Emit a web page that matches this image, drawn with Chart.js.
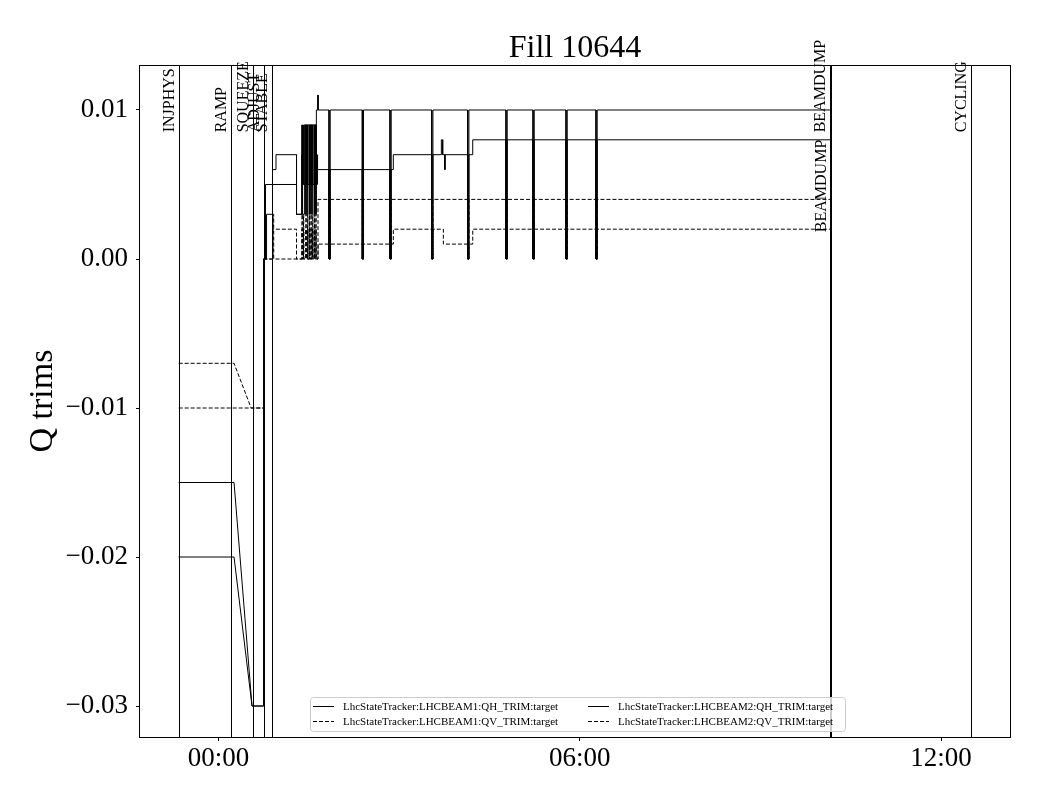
<!DOCTYPE html>
<html>
<head>
<meta charset="utf-8">
<script src="https://cdn.jsdelivr.net/npm/chart.js@4.4.1/dist/chart.umd.min.js"></script>
<style>
body{margin:0;background:#fff;}
#wrap{width:1040px;height:800px;}
</style>
</head>
<body>
<div id="wrap"><canvas id="qChart" width="1040" height="800"></canvas></div>
<script>
const FONT = '"Liberation Serif", "Times New Roman", serif';

const fillTitle = 'Fill 10644';
const yAxisTitle = 'Q trims';

// time axis in hours after 00:00
const xTickValues = [0, 6, 12];
const xTickLabels = ['00:00', '06:00', '12:00'];
const yTickValues = [-0.03, -0.02, -0.01, 0.0, 0.01];
const yTickLabels = ['\u22120.03', '\u22120.02', '\u22120.01', '0.00', '0.01'];

// machine modes (vertical markers)
const modeNames = ['INJPHYS', 'RAMP', 'SQUEEZE', 'ADJUST', 'STABLE', 'BEAMDUMP', 'BEAMDUMP', 'CYCLING'];
const modeTimes = [-0.658, 0.201, 0.563, 0.754, 0.879, 10.150, 10.168, 12.50];
const modeLabelY = [0.0085, 0.0085, 0.0085, 0.0085, 0.0085, 0.0085, 0.0018, 0.0085];

const seriesNames = [
  'LhcStateTracker:LHCBEAM1:QH_TRIM:target',
  'LhcStateTracker:LHCBEAM1:QV_TRIM:target',
  'LhcStateTracker:LHCBEAM2:QH_TRIM:target',
  'LhcStateTracker:LHCBEAM2:QV_TRIM:target'
];
const seriesDashed = [false, true, false, true];

// [hour, trim] samples
const b1qh = [[-0.664,-0.015],[0.256,-0.015],[0.555,-0.030],[0.746,-0.030],[0.746,0],[0.779,0],[0.779,0.005],
  [0.895,0.005],[0.895,0.006],[0.953,0.006],[0.953,0.007],[1.294,0.007],[1.294,0.003],[1.380,0.003],[1.380,0.007],
  [1.395,0.007],[1.395,0.003],[1.425,0.003],[1.425,0.009],[1.626,0.009],[1.626,0.010],[1.648,0.010],[1.648,0.011],
  [1.652,0.011],[1.652,0.010],[10.155,0.010]];
const b1qv = [[-0.664,-0.007],[0.256,-0.007],[0.540,-0.010],[0.746,-0.010],[0.746,0],[0.905,0],[0.905,0.003],
  [0.915,0.003],[0.915,0],[1.651,0],[1.651,0.004],[10.155,0.004]];
const b2qh = [[-0.664,-0.020],[0.256,-0.020],[0.555,-0.030],[0.746,-0.030],[0.746,0],[0.796,0],[0.796,0.003],
  [0.895,0.003],[0.895,0.005],[1.294,0.005],[1.294,0.003],[1.380,0.003],[1.380,0.005],[1.640,0.005],[1.640,0.007],
  [1.645,0.007],[1.645,0.006],[2.902,0.006],[2.902,0.007],[3.700,0.007],[3.700,0.008],[3.722,0.008],[3.722,0.007],
  [3.758,0.007],[3.758,0.006],[3.762,0.006],[3.762,0.007],[4.221,0.007],[4.221,0.008],[10.155,0.008]];
const b2qv = [[-0.664,-0.010],[0.746,-0.010],[0.746,0],[0.895,0],[0.895,0.002],[1.294,0.002],[1.294,0],
  [1.651,0],[1.651,0.001],[2.902,0.001],[2.902,0.002],[3.733,0.002],[3.733,0.001],[4.221,0.001],[4.221,0.002],
  [10.155,0.002]];

// short excursions: trims reset to 0 for all beams, plus the noisy stretch before stable trims
const trimResetTimes = [1.834, 2.387, 2.847, 3.540, 4.138, 4.774, 5.223, 5.771, 6.269];
const combTimes = [1.385, 1.41, 1.45, 1.478, 1.506, 1.534, 1.562, 1.59, 1.615];
const combLevel = [0.003, 0.003, 0.009, 0.002];

function buildSeries(points, combValue){
  const out = points.map(p => ({x: p[0], y: p[1]}));
  const valueAt = t => { let v = 0; points.forEach(p => { if (p[0] <= t) v = p[1]; }); return v; };
  const blip = (t, level, w) => {
    const v = valueAt(t);
    out.push({x: t, y: v}, {x: t, y: level}, {x: t + w, y: level}, {x: t + w, y: v});
  };
  trimResetTimes.forEach(t => blip(t, 0, 0.02));
  combTimes.forEach(t => blip(t, combValue, 0.004));
  return out.sort((a, b) => a.x - b.x);
}

const seriesPoints = [b1qh, b1qv, b2qh, b2qv];

const decorations = {
  id: 'decorations',
  beforeDatasetsDraw(chart){
    const {ctx, chartArea: a, scales: {x}} = chart;
    ctx.save();
    ctx.strokeStyle = '#000';
    ctx.lineWidth = 1;
    modeTimes.forEach(t => {
      const px = Math.round(x.getPixelForValue(t)) + 0.5;
      ctx.beginPath(); ctx.moveTo(px, a.top); ctx.lineTo(px, a.bottom); ctx.stroke();
    });
    ctx.restore();
  },
  afterDatasetsDraw(chart){
    const {ctx, chartArea: a, scales: {x, y}} = chart;
    ctx.save();
    // mode labels
    ctx.fillStyle = '#000';
    ctx.font = '16px ' + FONT;
    ctx.textAlign = 'left';
    ctx.textBaseline = 'alphabetic';
    modeNames.forEach((name, i) => {
      const px = x.getPixelForValue(modeTimes[i]) - 5;
      const py = y.getPixelForValue(modeLabelY[i]);
      ctx.save();
      ctx.translate(px, py);
      ctx.rotate(-Math.PI / 2);
      ctx.fillText(name, 0, 0);
      ctx.restore();
    });
    // frame
    ctx.strokeStyle = '#000';
    ctx.lineWidth = 1;
    ctx.strokeRect(Math.round(a.left) - 0.5, Math.round(a.top) + 0.5, Math.round(a.right - a.left) + 1, Math.round(a.bottom - a.top));
    // title
    ctx.font = '32px ' + FONT;
    ctx.textAlign = 'center';
    ctx.fillText(fillTitle, (a.left + a.right) / 2, 57);
    // legend
    const lx = 310, ly = 697, lw = 535, lh = 34;
    ctx.beginPath();
    ctx.roundRect(lx + 0.5, ly + 0.5, lw, lh, 3);
    ctx.fillStyle = 'rgba(255,255,255,0.8)';
    ctx.fill();
    ctx.strokeStyle = '#cccccc';
    ctx.stroke();
    ctx.font = '11px ' + FONT;
    ctx.fillStyle = '#000';
    ctx.textBaseline = 'middle';
    ctx.textAlign = 'left';
    const colX = [313, 588];
    const rowY = [706, 721];
    seriesNames.forEach((name, i) => {
      const cx = colX[Math.floor(i / 2)], cy = rowY[i % 2];
      ctx.strokeStyle = '#000';
      ctx.setLineDash(seriesDashed[i] ? [4, 2] : []);
      ctx.beginPath(); ctx.moveTo(cx, cy + 0.5); ctx.lineTo(cx + 21, cy + 0.5); ctx.stroke();
      ctx.setLineDash([]);
      ctx.fillText(name, cx + 30, cy + 1);
    });
    ctx.restore();
  }
};

new Chart(document.getElementById('qChart'), {
  type: 'line',
  data: {
    datasets: seriesPoints.map((pts, i) => ({
      label: seriesNames[i],
      data: buildSeries(pts, combLevel[i]),
      borderColor: '#000',
      borderWidth: 1,
      borderDash: seriesDashed[i] ? [4, 2] : [],
      pointRadius: 0,
      fill: false,
      tension: 0
    }))
  },
  options: {
    responsive: false,
    animation: false,
    layout: {padding: {left: 0, top: 65, right: 30, bottom: 0}},
    plugins: {legend: {display: false}, tooltip: {enabled: false}, title: {display: false}},
    scales: {
      x: {
        type: 'linear',
        min: -1.306,
        max: 13.146,
        afterBuildTicks: s => { s.ticks = xTickValues.map(v => ({value: v})); },
        afterFit: s => { s.height = 63; },
        grid: {drawOnChartArea: false, drawTicks: true, tickLength: 4, color: '#000'},
        border: {display: false},
        ticks: {
          autoSkip: false, maxRotation: 0, padding: 2, color: '#000',
          font: {family: FONT, size: 27},
          callback: v => xTickLabels[xTickValues.indexOf(v)]
        }
      },
      y: {
        type: 'linear',
        min: -0.03208,
        max: 0.01302,
        afterBuildTicks: s => { s.ticks = yTickValues.map(v => ({value: v})); },
        afterFit: s => { s.width = 140; },
        grid: {drawOnChartArea: false, drawTicks: true, tickLength: 4, color: '#000'},
        border: {display: false},
        ticks: {
          padding: 8, color: '#000',
          font: {family: FONT, size: 27},
          callback: v => yTickLabels[yTickValues.indexOf(v)]
        },
        title: {
          display: true, text: yAxisTitle, color: '#000',
          font: {family: FONT, size: 34},
          padding: {top: 23, bottom: 0}
        }
      }
    }
  },
  plugins: [decorations]
});
</script>
</body>
</html>
